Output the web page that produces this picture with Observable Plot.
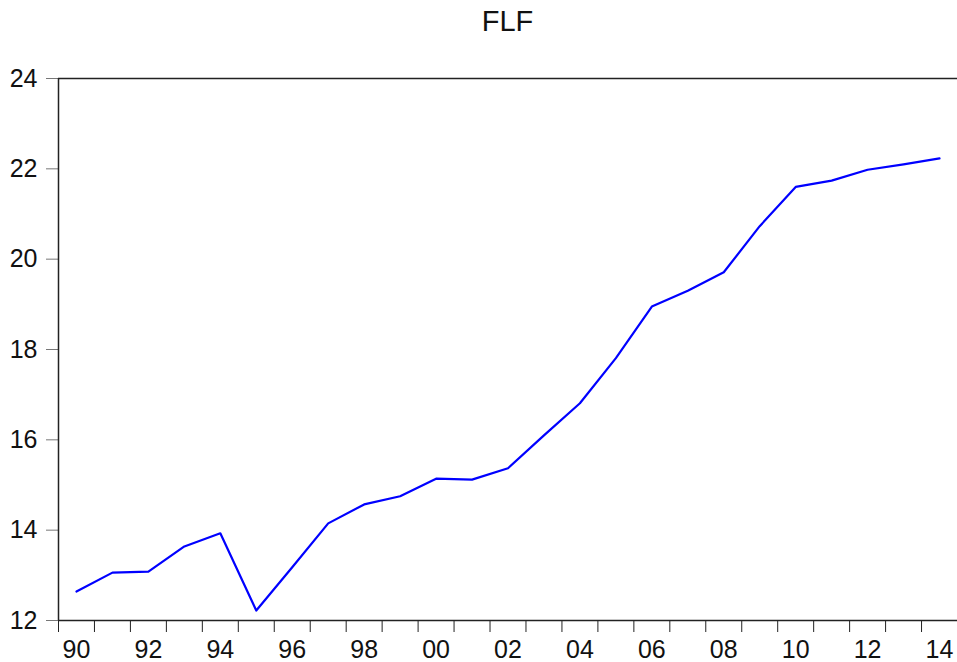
<!DOCTYPE html>
<html><head><meta charset="utf-8">
<script src="https://cdn.jsdelivr.net/npm/d3@7"></script>
<script src="https://cdn.jsdelivr.net/npm/@observablehq/plot@0.6"></script>
<style>
body{margin:0;background:#fff;}
#wrap{position:relative;width:957px;height:662px;font-family:"Liberation Sans",Arial,sans-serif;}
#title{position:absolute;left:58px;right:0;top:4px;text-align:center;font-size:29px;color:#111;line-height:34px;}
svg{display:block;}
</style></head><body><div id="wrap"><div id="title">FLF</div></div>
<script>
const years = [1990,1991,1992,1993,1994,1995,1996,1997,1998,1999,2000,2001,2002,2003,2004,2005,2006,2007,2008,2009,2010,2011,2012,2013,2014];
const flf = [12.64,13.06,13.08,13.64,13.93,12.22,13.18,14.15,14.57,14.75,15.14,15.12,15.37,16.10,16.81,17.81,18.95,19.30,19.71,20.73,21.60,21.74,21.98,22.10,22.23];
const yTicks = [12,14,16,18,20,22,24];
const xLabelYears = [1990,1992,1994,1996,1998,2000,2002,2004,2006,2008,2010,2012,2014];
const xTickLabels = ["90","92","94","96","98","00","02","04","06","08","10","12","14"];

const data = years.map((y,i)=>({year:y, value:flf[i]}));
const boundaries = years.concat([years[years.length-1]+1]);
const labelPos = xLabelYears.map(y=>y+0.5);

const chart = Plot.plot({
  width:957, height:662,
  marginTop:78, marginBottom:42, marginLeft:58, marginRight:0,
  x:{domain:[years[0], years[years.length-1]+1]},
  y:{domain:[12,24]},
  style:{fontFamily:"'Liberation Sans', Arial, sans-serif", fontSize:"25px", color:"black", background:"white", overflow:"visible"},
  marks:[
    Plot.axisY({ticks:yTicks, tickSize:12, tickPadding:9, stroke:"#777", fill:"#111", fontSize:25, label:null, tickFormat:d=>String(d)}),
    Plot.axisX({ticks:boundaries, tickSize:12, tickFormat:()=>"", stroke:"#222", label:null}),
    Plot.axisX({ticks:labelPos, tickSize:0, tickPadding:20, fill:"#111", fontSize:25, label:null, tickFormat:d=>xTickLabels[xLabelYears.indexOf(Math.floor(d))]}),
    Plot.ruleY([24], {stroke:"#222", strokeWidth:1.5}),
    Plot.ruleY([12], {stroke:"#222", strokeWidth:1.5}),
    Plot.ruleX([years[0]], {stroke:"#222", strokeWidth:1.5}),
    Plot.line(data, {x:d=>d.year+0.5, y:"value", stroke:"#0000ff", strokeWidth:2.2})
  ]
});
document.getElementById("wrap").appendChild(chart);
</script>
</body></html>
